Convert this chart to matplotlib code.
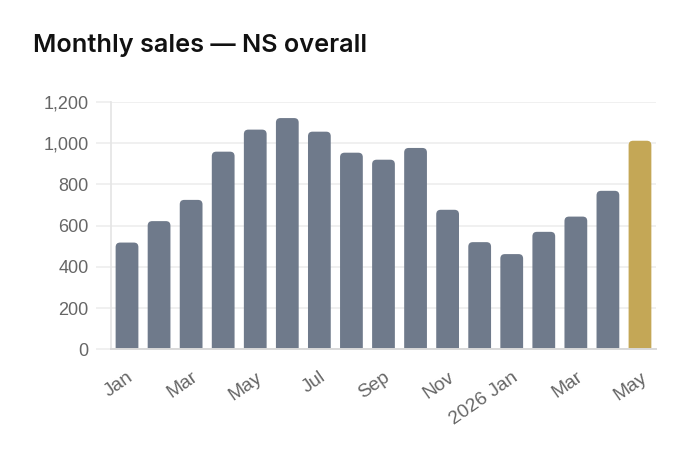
import matplotlib
matplotlib.use("Agg")
import matplotlib.pyplot as plt
from matplotlib.patches import FancyBboxPatch

plt.rcParams["font.family"] = ["Liberation Sans", "DejaVu Sans"]

months = ["Jan", "Feb", "Mar", "Apr", "May", "Jun", "Jul", "Aug", "Sep",
          "Oct", "Nov", "Dec", "2026 Jan", "Feb", "Mar", "Apr", "May"]
sales = [518, 622, 725, 959, 1066, 1122, 1056, 954, 920,
         977, 677, 520, 462, 570, 644, 769, 1012]
highlight = 16  # current month
yticks = [0, 200, 400, 600, 800, 1000, 1200]

BAR_COLOR = "#6f7a8b"
HI_COLOR = "#c4a756"
GRID = "#eeeeee"

fig = plt.figure(figsize=(6.88, 4.58), dpi=100)
ax = fig.add_axes([0.1613, 0.2373, 0.7922, 0.54])

width = 0.71
bars = ax.bar(range(len(sales)), sales, width=width, color="none")

ax.set_xlim(-0.5, len(sales) - 0.5)
ax.set_ylim(0, 1200)

# rounded top corners, px radius -> data units; bottom corners get clipped at y=0
fig.canvas.draw()
x_px = ax.transData.transform([(1, 0)])[0][0] - ax.transData.transform([(0, 0)])[0][0]
y_px = ax.transData.transform([(0, 1)])[0][1] - ax.transData.transform([(0, 0)])[0][1]
r = 4.5 / x_px
aspect = x_px / y_px
below = 3 * r * aspect

for i, b in enumerate(bars):
    c = HI_COLOR if i == highlight else BAR_COLOR
    x, w, h = b.get_x(), b.get_width(), b.get_height()
    ax.add_patch(FancyBboxPatch((x, -below), w, h + below,
                                boxstyle=f"round,pad=0,rounding_size={r}",
                                mutation_aspect=aspect, fc=c, ec="none", zorder=3))

ax.set_yticks(yticks)
ax.set_yticklabels([f"{v:,}" for v in yticks])
ax.set_xticks(range(0, len(sales), 2))
ax.set_xticklabels(months[::2], rotation=35, ha="right", va="top",
                   rotation_mode="anchor")

ax.grid(axis="y", color=GRID, linewidth=1.2, zorder=0)
ax.set_axisbelow(True)
for s in ["top", "right"]:
    ax.spines[s].set_visible(False)
ax.spines["left"].set_color("#e4e4e4")
ax.spines["bottom"].set_color("#d9d9d9")
ax.spines["left"].set_linewidth(1.2)
ax.spines["bottom"].set_linewidth(1.4)
ax.spines["bottom"].set_zorder(4)

ax.tick_params(axis="y", length=11, width=1.2, color=GRID, pad=5,
               labelsize=13, labelcolor="#666666")
ax.tick_params(axis="x", length=0, pad=14, labelsize=13.8, labelcolor="#666666")

fig.text(33 / 688, 1 - 52 / 458, "Monthly sales — NS overall", fontsize=18.2,
         fontweight="semibold", family=["Inter", "DejaVu Sans"],
         color="#111111", va="baseline")

fig.savefig("out.png", dpi=100)
